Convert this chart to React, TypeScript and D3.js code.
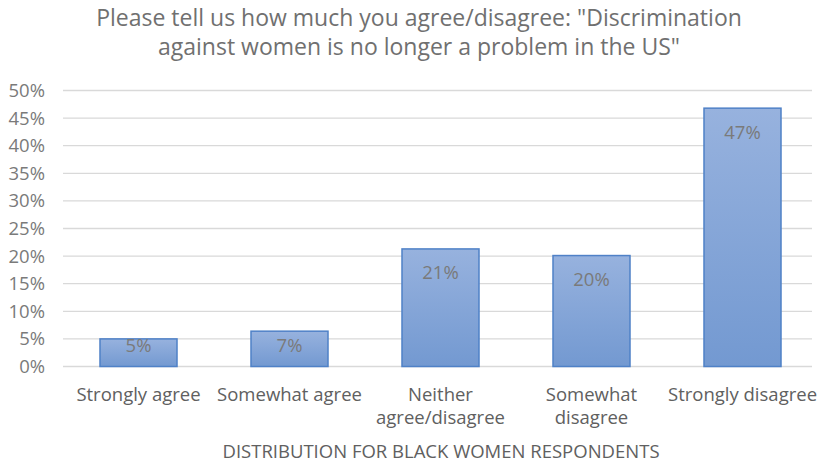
import React from "react";
import * as d3 from "d3";

const categories: string[][] = [
  ["Strongly agree"],
  ["Somewhat agree"],
  ["Neither", "agree/disagree"],
  ["Somewhat", "disagree"],
  ["Strongly disagree"],
];
const values: number[] = [0.05, 0.064, 0.213, 0.201, 0.468];
const valueLabels: string[] = ["5%", "7%", "21%", "20%", "47%"];
const yTicks: number[] = [0, 0.05, 0.1, 0.15, 0.2, 0.25, 0.3, 0.35, 0.4, 0.45, 0.5];
const titleLines: string[] = [
  'Please tell us how much you agree/disagree: "Discrimination',
  'against women is no longer a problem in the US"',
];
const axisTitle = "DISTRIBUTION FOR BLACK WOMEN RESPONDENTS";

const W = 820;
const H = 466;
const FONT = "'Open Sans', 'Noto Sans', sans-serif";

export default function App() {
  const idx = categories.map((_, i) => String(i));
  const x = d3.scaleBand<string>().domain(idx).range([63, 818]).paddingInner(0.49).paddingOuter(0.245);
  const y = d3.scaleLinear().domain([0, 0.5]).range([366.5, 90.5]);
  const fmt = d3.format(".0%");

  return (
    <svg width={W} height={H} style={{ position: "absolute", left: 0, top: 0, background: "#fff" }} fontFamily={FONT}>
      <defs>
        <linearGradient id="barGrad" x1="0" y1="0" x2="0" y2="1">
          <stop offset="0%" stopColor="#97b2de" />
          <stop offset="100%" stopColor="#7399d1" />
        </linearGradient>
      </defs>
      <rect x={0} y={0} width={W} height={H} fill="#fff" />
      {titleLines.map((t, i) => (
        <text key={i} x={419} y={26 + i * 29} textAnchor="middle" fontSize={23} fill="#707070">
          {t}
        </text>
      ))}
      {yTicks.map((t) => (
        <g key={t}>
          <line x1={63} x2={812} y1={y(t)} y2={y(t)} stroke="#d9d9d9" strokeWidth={1.3} />
          <text x={45} y={y(t) + 6.5} textAnchor="end" fontSize={18.5} fill="#7a7a7a">
            {fmt(t)}
          </text>
        </g>
      ))}
      {values.map((v, i) => {
        const bx = x(String(i))!;
        const top = y(v);
        const bottom = y(0);
        const ly = Math.min(top + 24, bottom - 21);
        return (
          <g key={i}>
            <rect x={bx} y={top} width={x.bandwidth()} height={bottom - top} fill="url(#barGrad)" stroke="#4f81c7" strokeWidth={1.5} />
            <text x={bx + x.bandwidth() / 2} y={ly + 6.5} textAnchor="middle" fontSize={18.5} fill="#7a7a7a">
              {valueLabels[i]}
            </text>
          </g>
        );
      })}
      {categories.map((lines, i) => (
        <text key={i} x={x(String(i))! + x.bandwidth() / 2} textAnchor="middle" fontSize={18.5} fill="#606060">
          {lines.map((l, j) => (
            <tspan key={j} x={x(String(i))! + x.bandwidth() / 2} y={401 + j * 23}>
              {l}
            </tspan>
          ))}
        </text>
      ))}
      <text x={441} y={458} textAnchor="middle" fontSize={18.5} fill="#606060">
        {axisTitle}
      </text>
    </svg>
  );
}
